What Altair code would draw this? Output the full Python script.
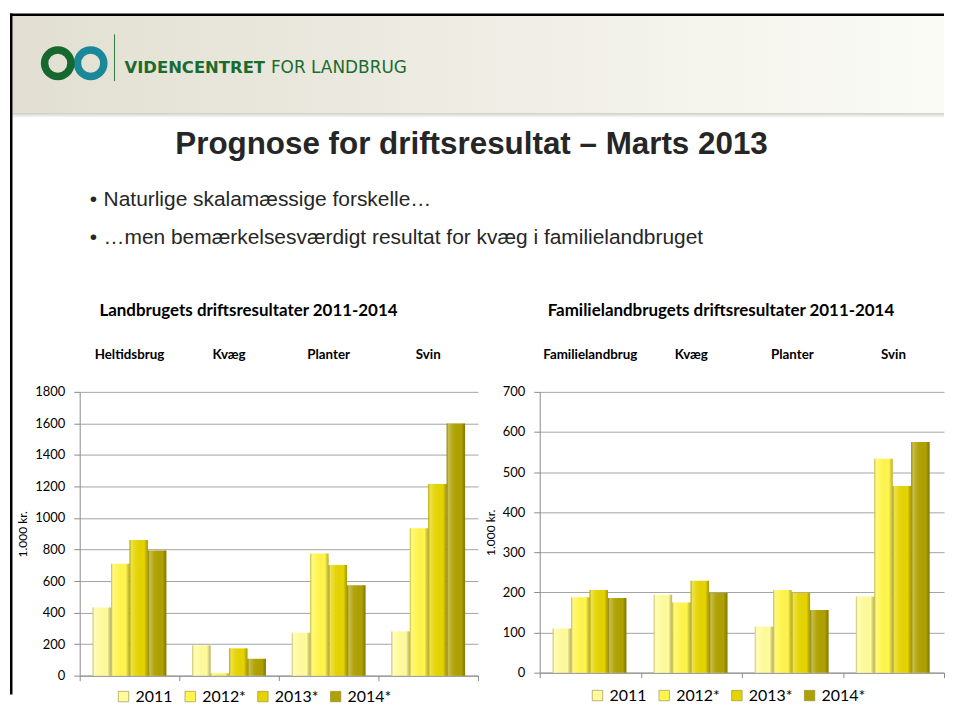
import altair as alt
import pandas as pd

# ---------------- data ----------------
years = ["2011", "2012*", "2013*", "2014*"]
year_colors = ["#FFFB9C", "#FFF54D", "#E5D400", "#AFA100"]

left_categories = ["Heltidsbrug", "Kvæg", "Planter", "Svin"]
left_2011 = [432, 192, 272, 281]
left_2012 = [710, 15, 774, 935]
left_2013 = [860, 173, 702, 1216]
left_2014 = [794, 107, 573, 1600]
left_ticks = [0, 200, 400, 600, 800, 1000, 1200, 1400, 1600, 1800]

right_categories = ["Familielandbrug", "Kvæg", "Planter", "Svin"]
right_2011 = [110, 194, 115, 190]
right_2012 = [188, 175, 206, 533]
right_2013 = [206, 229, 199, 465]
right_2014 = [186, 199, 156, 575]
right_ticks = [0, 100, 200, 300, 400, 500, 600, 700]

slide_title = "Prognose for driftsresultat – Marts 2013"
bullet_1 = "Naturlige skalamæssige forskelle…"
bullet_2 = "…men bemærkelsesværdigt resultat for kvæg i familielandbruget"
left_title = "Landbrugets driftsresultater 2011-2014"
right_title = "Familielandbrugets driftsresultater 2011-2014"
y_title = "1.000 kr."


def long_df(cats, series):
    rows = []
    for yr, vals in zip(years, series):
        for c, v in zip(cats, vals):
            rows.append({"cat": c, "year": yr, "value": v})
    return pd.DataFrame(rows)


left_df = long_df(left_categories, [left_2011, left_2012, left_2013, left_2014])
right_df = long_df(right_categories, [right_2011, right_2012, right_2013, right_2014])

# ---------------- style ----------------
CF = "Lato"
SF = "Liberation Sans"
GRID = "#A3A3A3"
AXIS = "#8A8A8A"

bevel = alt.Gradient(
    gradient="linear",
    stops=[
        alt.GradientStop(color="rgba(80,70,0,0.35)", offset=0),
        alt.GradientStop(color="rgba(255,255,255,0.30)", offset=0.10),
        alt.GradientStop(color="rgba(255,255,255,0.05)", offset=0.35),
        alt.GradientStop(color="rgba(0,0,0,0.0)", offset=0.80),
        alt.GradientStop(color="rgba(60,50,0,0.35)", offset=1),
    ],
    x1=0, x2=1, y1=0, y2=0,
)


def panel(cats, df, ticks, ymax, width, height, title, title_x, legend_x, legend_y):
    x_enc = alt.X(
        "cat:N",
        sort=cats,
        scale=alt.Scale(domain=cats, paddingInner=0, paddingOuter=0),
        axis=alt.Axis(
            orient="bottom", labels=False, ticks=True, tickBand="extent",
            tickSize=5, tickColor=AXIS, domainColor=AXIS, grid=False, title=None,
        ),
    )
    xoff = alt.XOffset(
        "year:N", sort=years,
        scale=alt.Scale(domain=years, paddingOuter=0.7, paddingInner=0),
    )
    y_enc = alt.Y(
        "value:Q",
        scale=alt.Scale(domain=[0, ymax], nice=False, zero=True),
        axis=alt.Axis(
            values=ticks, format="d", grid=True, gridColor=GRID, domainColor=AXIS,
            tickColor=AXIS, tickSize=6, labelPadding=9, labelFont=CF,
            labelFontSize=13, labelColor="#000000", title=y_title,
            titleFont=CF, titleFontSize=12, titleFontWeight="normal",
            titleColor="#000000", titlePadding=5,
        ),
    )
    bars = alt.Chart(df).mark_bar().encode(
        x=x_enc, xOffset=xoff, y=y_enc,
        color=alt.Color(
            "year:N", sort=years,
            scale=alt.Scale(domain=years, range=year_colors),
            legend=alt.Legend(
                orient="none", legendX=legend_x, legendY=legend_y,
                direction="horizontal", title=None, labelFont=CF,
                labelFontSize=16, labelColor="#000000", symbolType="square",
                symbolSize=110, symbolStrokeColor="#8C8640",
                symbolStrokeWidth=0.6, columnPadding=9, labelOffset=4,
            ),
        ),
    )
    shade = alt.Chart(df).mark_bar(fill=bevel).encode(x=x_enc, xOffset=xoff, y=y_enc)
    labels = alt.Chart(pd.DataFrame({"cat": cats})).mark_text(
        font=CF, fontSize=13.4, fontWeight="bold", color="#000000", baseline="middle"
    ).encode(x=x_enc, y=alt.value(-37), text="cat:N")
    ttl = alt.Chart(pd.DataFrame({"t": [title]})).mark_text(
        font=CF, fontSize=17, fontWeight="bold", color="#000000", baseline="middle"
    ).encode(x=alt.value(title_x), y=alt.value(-81), text="t:N")
    return alt.layer(bars, shade, labels, ttl).properties(width=width, height=height)


left = panel(left_categories, left_df, left_ticks, 1800, 400, 285,
             left_title, 169.5, 36, 298)
right = panel(right_categories, right_df, right_ticks, 700, 406, 282,
              right_title, 182, 50, 297)

# ---------------- slide header ----------------
one = pd.DataFrame({"k": [0]})
base = alt.Chart(one)


def rect(x, x2, y, y2, fill):
    return base.mark_rect(fill=fill, stroke=None, strokeWidth=0).encode(
        x=alt.value(x), x2=alt.value(x2), y=alt.value(y), y2=alt.value(y2)
    )


def text(s, x, y, font, size, weight="normal", color="#262626", align="left"):
    return base.mark_text(
        text=s, font=font, fontSize=size, fontWeight=weight, color=color,
        align=align, baseline="alphabetic",
    ).encode(x=alt.value(x), y=alt.value(y))


band = alt.Gradient(
    gradient="linear",
    stops=[alt.GradientStop(color="#E2DFD2", offset=0),
           alt.GradientStop(color="#FBFBF6", offset=1)],
    x1=0, x2=1, y1=0, y2=0,
)
shadow = alt.Gradient(
    gradient="linear",
    stops=[alt.GradientStop(color="#CFCFC8", offset=0),
           alt.GradientStop(color="#FFFFFF", offset=1)],
    x1=0, x2=0, y1=0, y2=1,
)

BOTTOM = 688
RIGHT = 868

header_layers = [
    rect(-70, RIGHT, 0, BOTTOM, "#FFFFFF"),
    rect(-67.5, RIGHT, 6, 104, band),
    rect(-67.5, RIGHT, 104, 109, shadow),
    base.mark_rule(color="#000000", strokeWidth=2.5).encode(
        x=alt.value(-70), x2=alt.value(RIGHT), y=alt.value(5.25)),
    base.mark_rule(color="#000000", strokeWidth=2.5).encode(
        x=alt.value(-68.75), y=alt.value(4), y2=alt.value(BOTTOM)),
    base.mark_arc(outerRadius=17, innerRadius=9.5, theta=0, theta2=6.2832,
                  fill="#1A8898").encode(x=alt.value(11), y=alt.value(54)),
    base.mark_arc(outerRadius=17, innerRadius=9.5, theta=0, theta2=6.2832,
                  fill="#17682F").encode(x=alt.value(-22), y=alt.value(54)),
    base.mark_rule(color="#2E7A3C", strokeWidth=1).encode(
        x=alt.value(35), y=alt.value(25), y2=alt.value(72)),
    text("VIDENCENTRET", 45, 63.5, "DejaVu Sans", 16.5, "bold", "#1B6B30"),
    text("FOR LANDBRUG", 192, 63.5, "DejaVu Sans", 17, "normal", "#1B6B30"),
    text(slide_title, 393.5, 145, SF, 31.5, "bold", "#262626", "center"),
    text("•", 10, 197, SF, 21, "normal", "#262626"),
    text(bullet_1, 24, 197, SF, 21, "normal", "#262626"),
    text("•", 10, 236, SF, 21, "normal", "#262626"),
    text(bullet_2, 24, 236, SF, 21, "normal", "#262626"),
]
header = alt.layer(*header_layers).properties(width=800, height=384)

panels = alt.hconcat(left, right, spacing=62, bounds="flush").resolve_scale(
    color="independent", y="independent", x="independent"
).resolve_legend(color="independent")

chart = alt.vconcat(header, panels, spacing=0, bounds="flush", padding=0).configure_view(
    stroke=None
)

chart.save("out.html", embed_options={"renderer": "svg", "actions": False})
